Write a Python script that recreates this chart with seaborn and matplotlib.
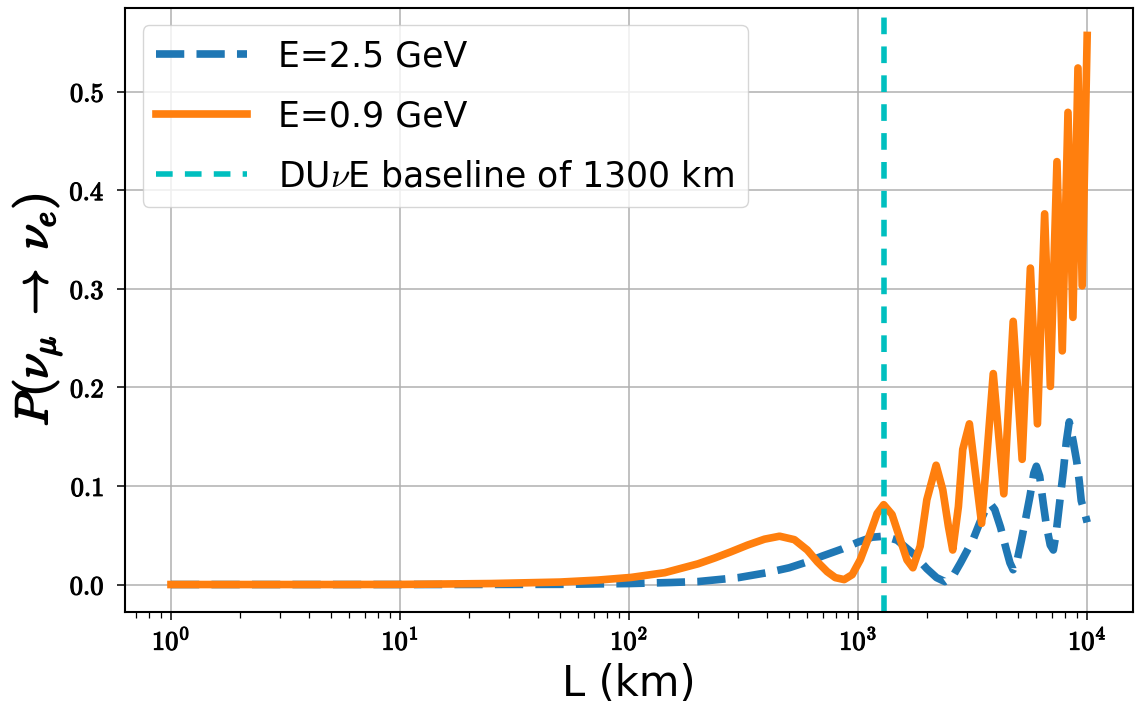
import math
import matplotlib
matplotlib.use("Agg")
import matplotlib.pyplot as plt
import matplotlib.patheffects as pe
from matplotlib.ticker import FuncFormatter, LogLocator
import seaborn as sns

# values
L_high_e = [1, 10, 50, 100, 150, 200, 300, 400, 500, 600, 700, 850, 1000, 1150,
            1300, 1480, 1745, 1995, 2200, 2390, 2600, 2800, 3000, 3193, 3400, 3600,
            3780, 3950, 4185, 4440, 4600, 4750, 4950, 5165, 5400, 5630, 5850, 6000,
            6200, 6450, 6635, 6900, 7115, 7300, 7555, 7870, 8110, 8350, 8690, 9000,
            9230, 9420, 9700, 10000]
P_high_e = [0.0, 0.0, 0.0002, 0.001, 0.002, 0.003, 0.007, 0.012, 0.017, 0.023, 0.029,
            0.036, 0.043, 0.048, 0.049, 0.045, 0.031, 0.016, 0.007, 0.003, 0.009, 0.022,
            0.035, 0.047, 0.063, 0.076, 0.082, 0.076, 0.058, 0.035, 0.022, 0.015, 0.025,
            0.045, 0.068, 0.09, 0.113, 0.12, 0.11, 0.08, 0.06, 0.04, 0.035, 0.05, 0.08,
            0.115, 0.145, 0.165, 0.145, 0.125, 0.105, 0.085, 0.075, 0.063]

L_low_e = [1, 5, 10, 25, 50, 73, 102, 143, 200, 237, 277, 329, 390, 454, 527, 600,
           664, 733, 795, 869, 942, 1021, 1117, 1210, 1293, 1406, 1528, 1634, 1734,
           1866, 1995, 2190, 2342, 2478, 2588, 2740, 2862, 3060, 3460, 3890, 4325,
           4753, 5200, 5650, 6065, 6520, 6905, 7380, 7785, 8245, 8665, 9115, 9510,
           10000]
P_low_e = [0.0, 0.0, 0.0001, 0.001, 0.0025, 0.0045, 0.0072, 0.012, 0.021, 0.027,
           0.033, 0.040, 0.046, 0.049, 0.0455, 0.035, 0.023, 0.013, 0.007, 0.005,
           0.010, 0.025, 0.049, 0.072, 0.081, 0.071, 0.0455, 0.025, 0.017, 0.039,
           0.086, 0.121, 0.096, 0.059, 0.035, 0.079, 0.137, 0.163, 0.062, 0.214,
           0.092, 0.267, 0.127, 0.321, 0.163, 0.376, 0.201, 0.429, 0.237, 0.479,
           0.271, 0.524, 0.303, 0.557]

baseline_km = 1300
labels = ["E=2.5 GeV", "E=0.9 GeV", r"DU$\nu$E baseline of 1300 km"]

plt.rcParams["mathtext.fontset"] = "cm"
plt.rcParams["font.family"] = ["DejaVu Sans"]

fig, ax = plt.subplots(figsize=(11.38, 7.07), dpi=100)
fig.subplots_adjust(left=0.11, right=0.9956, top=0.9887, bottom=0.1344)

sns.lineplot(x=L_high_e, y=P_high_e, ax=ax, color="C0", linestyle="--",
             linewidth=5.5, label=labels[0], sort=False)
sns.lineplot(x=L_low_e, y=P_low_e, ax=ax, color="C1", linestyle="-",
             linewidth=5.5, label=labels[1], sort=False)
ax.axvline(baseline_km, color="c", linewidth=4, dashes=(3, 2.2), label=labels[2])

ax.set_xscale("log")
ax.grid(True, which="major", color="#b0b0b0", linewidth=1.1)
ax.set_axisbelow(True)

bold = [pe.withStroke(linewidth=0.8, foreground="black")]
ax.xaxis.set_major_locator(LogLocator(base=10, numticks=10))
ax.xaxis.set_major_formatter(FuncFormatter(lambda v, p: r"$\mathbf{10^{%d}}$" % round(math.log10(v))))
ax.yaxis.set_major_formatter(FuncFormatter(lambda v, p: r"$\mathbf{%.1f}$" % v))
ax.tick_params(axis="both", which="major", labelsize=19, length=6, width=1.1)
ax.tick_params(axis="x", which="major", pad=6)
ax.tick_params(axis="y", which="major", pad=9)
ax.tick_params(axis="x", which="minor", length=4, width=0.9)
for lab in ax.get_xticklabels() + ax.get_yticklabels():
    lab.set_path_effects(bold)
for s in ax.spines.values():
    s.set_linewidth(1.5)

ax.set_xlabel("L (km)", fontsize=30, labelpad=5)
ax.set_ylabel(r"$P(\nu_\mu \;\rightarrow\; \nu_e)$", fontsize=33, labelpad=4,
              path_effects=[pe.withStroke(linewidth=1.4, foreground="black")])

ax.legend(loc="upper left", fontsize=25, handlelength=2.6, handletextpad=0.9,
          labelspacing=0.75)

fig.savefig("out.png", dpi=100)
